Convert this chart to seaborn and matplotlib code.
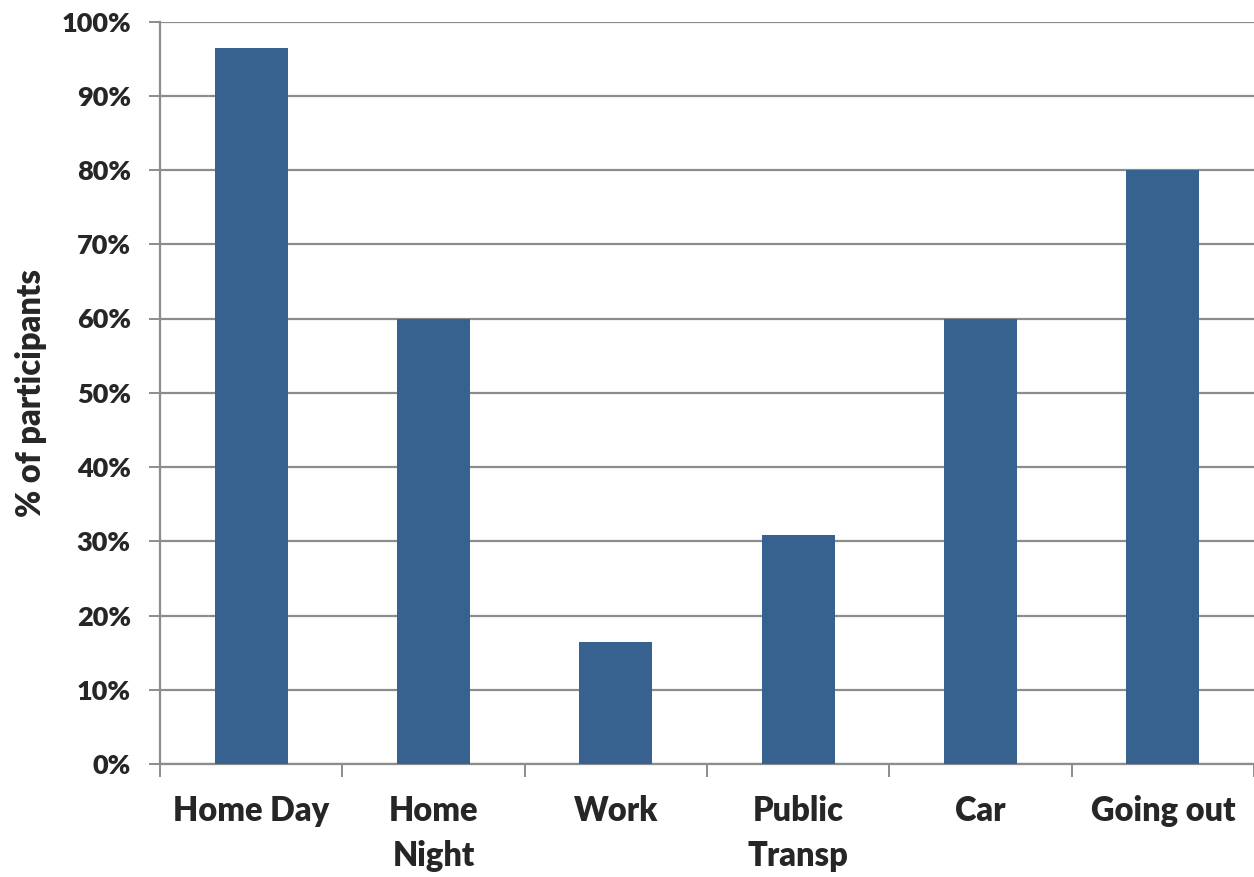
import matplotlib
matplotlib.use("Agg")
import matplotlib.pyplot as plt
import seaborn as sns
import pandas as pd
import numpy as np
from matplotlib.ticker import FixedLocator, PercentFormatter

categories = ["Home Day", "Home\nNight", "Work", "Public\nTransp", "Car", "Going out"]
participants_pct = [96.4, 60.0, 16.4, 30.9, 60.0, 80.0]
y_ticks = [0, 10, 20, 30, 40, 50, 60, 70, 80, 90, 100]

sns.set_theme(style="white")
plt.rcParams["font.family"] = ["Lato", "DejaVu Sans"]
plt.rcParams["font.weight"] = "bold"

df = pd.DataFrame({"location": categories, "pct": participants_pct})

fig = plt.figure(figsize=(12.54, 8.77), dpi=100)
ax = fig.add_axes([160 / 1254, 1 - 764 / 877, (1254 - 160) / 1254, (764 - 21.5) / 877])

sns.barplot(data=df, x="location", y="pct", color="#37618f", saturation=1,
            width=0.4, linewidth=0, ax=ax, zorder=3)

ax.set_xlim(-0.5, len(categories) - 0.5)
ax.set_ylim(0, 100)
ax.yaxis.set_major_locator(FixedLocator(y_ticks))
ax.yaxis.set_major_formatter(PercentFormatter(decimals=0))
ax.grid(axis="y", color="#8c8c8c", linewidth=1.6, zorder=0)
ax.set_axisbelow(True)

# category boundary ticks on x, labels centered between them
ax.set_xticks(np.arange(-0.5, len(categories) + 0.5, 1.0))
ax.set_xticklabels([])
ax.set_xticks(np.arange(len(categories)), minor=True)
ax.set_xticklabels(categories, minor=True, fontsize=23.5, fontweight="heavy", linespacing=1.5)
ax.tick_params(axis="x", which="major", length=9, width=1.4, color="#8c8c8c", direction="out", bottom=True)
ax.tick_params(axis="x", which="minor", length=0, pad=22)
ax.tick_params(axis="y", length=8, width=1.4, color="#8c8c8c", direction="out", left=True, pad=13)
for lab in ax.get_yticklabels():
    lab.set_fontsize(19.5)
    lab.set_fontweight("heavy")
for lab in ax.get_xticklabels(minor=True):
    lab.set_verticalalignment("top")

for side in ["top", "right"]:
    ax.spines[side].set_visible(False)
for side in ["left", "bottom"]:
    ax.spines[side].set_color("#8c8c8c")
    ax.spines[side].set_linewidth(1.6)

ax.set_xlabel("")
ax.set_ylabel("% of participants", fontsize=23.5, fontweight="heavy", labelpad=10)

fig.savefig("out.png", dpi=100)
